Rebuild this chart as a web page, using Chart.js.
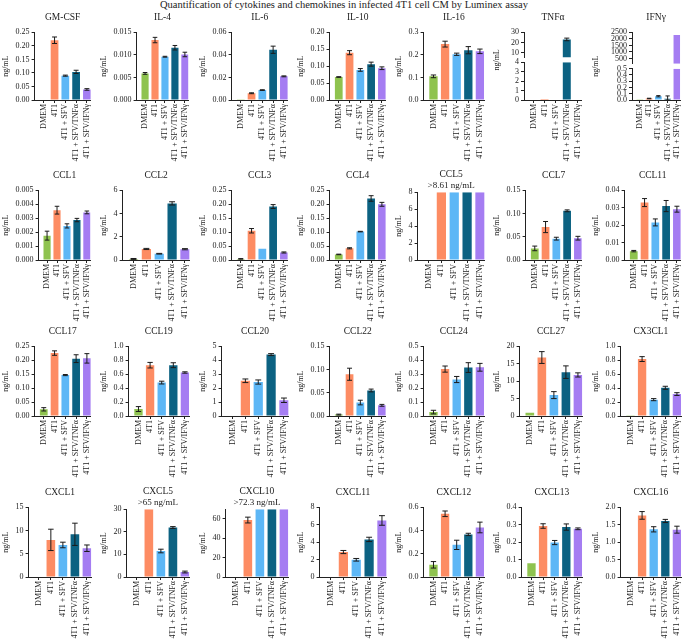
<!DOCTYPE html>
<html>
<head>
<meta charset="utf-8">
<script src="https://cdn.jsdelivr.net/npm/chart.js@4.4.1/dist/chart.umd.min.js"></script>
<style>
  body { margin: 0; background: #fff; }
  #page { position: relative; width: 688px; height: 642px; }
  #mainTitle { position: absolute; left: 0; top: -1px; width: 688px; text-align: center;
               font: 10.5px 'Liberation Serif', 'Times New Roman', serif; color: #222; }
  .panel { position: absolute; width: 98px; }
</style>
</head>
<body>
<div id="page">
  <div id="mainTitle">Quantification of cytokines and chemokines in infected 4T1 cell CM by Luminex assay</div>
</div>
<script>
const groups = ['DMEM', '4T1', '4T1 + SFV', '4T1 + SFV/TNFα', '4T1 + SFV/IFNγ'];
const barColors = ['#8fc34f', '#fd8c63', '#5db7f6', '#0c6282', '#a57df2'];

// values (ng/mL) and SEM, one pair per analyte
const gmcsf = [0, 0.221, 0.090, 0.104, 0.039];
const gmcsfErr = [0, 0.012, 0.002, 0.006, 0.003];
const il4 = [0.0059, 0.0133, 0.0096, 0.0116, 0.0101];
const il4Err = [0.0002, 0.0006, 0.0001, 0.0005, 0.0005];
const il6 = [0.0003, 0.0060, 0.0088, 0.0446, 0.0210];
const il6Err = [0, 0.0004, 0.0003, 0.0032, 0.0004];
const il10 = [0.068, 0.140, 0.089, 0.106, 0.094];
const il10Err = [0.001, 0.006, 0.004, 0.006, 0.004];
const il16 = [0.105, 0.248, 0.203, 0.221, 0.216];
const il16Err = [0.006, 0.013, 0.005, 0.016, 0.010];
const tnfa = [0, 0.01, 0, 23.0, 0];
const tnfaErr = [0, 0, 0, 1.3, 0];
const ifng = [0.004, 0.024, 0.060, 0.020, 2300];
const ifngErr = [0, 0.004, 0.010, 0.045, 0];
const ccl1 = [0.00175, 0.00358, 0.00245, 0.00287, 0.00342];
const ccl1Err = [0.00032, 0.00028, 0.00015, 0.00012, 0.0001];
const ccl2 = [0.09, 0.95, 0.54, 4.88, 0.93];
const ccl2Err = [0.04, 0.05, 0.03, 0.14, 0.05];
const ccl3 = [0.004, 0.105, 0.040, 0.192, 0.027];
const ccl3Err = [0.001, 0.008, 0, 0.007, 0.002];
const ccl4 = [0.020, 0.042, 0.102, 0.221, 0.200];
const ccl4Err = [0.001, 0.002, 0.001, 0.010, 0.007];
const ccl5 = [0, 8.61, 8.61, 8.61, 8.61];
const ccl5Err = [0, 0, 0, 0, 0];
const ccl7 = [0.025, 0.071, 0.046, 0.106, 0.047];
const ccl7Err = [0.005, 0.012, 0.003, 0.002, 0.004];
const ccl11 = [0.0051, 0.0330, 0.0216, 0.0310, 0.0292];
const ccl11Err = [0.0004, 0.0023, 0.002, 0.0032, 0.0017];
const ccl17 = [0.024, 0.226, 0.147, 0.206, 0.207];
const ccl17Err = [0.006, 0.008, 0.002, 0.014, 0.017];
const ccl19 = [0.10, 0.73, 0.48, 0.73, 0.625];
const ccl19Err = [0.035, 0.04, 0.02, 0.035, 0.01];
const ccl20 = [0, 2.53, 2.44, 4.41, 1.13];
const ccl20Err = [0, 0.13, 0.15, 0.07, 0.16];
const ccl22 = [0.003, 0.090, 0.029, 0.055, 0.023];
const ccl22Err = [0.001, 0.013, 0.005, 0.003, 0.002];
const ccl24 = [0.028, 0.337, 0.262, 0.348, 0.350];
const ccl24Err = [0.013, 0.022, 0.022, 0.035, 0.028];
const ccl27 = [0.9, 16.8, 6.0, 12.6, 11.8];
const ccl27Err = [0, 1.7, 1.0, 1.8, 0.6];
const cx3cl1 = [0.003, 0.818, 0.235, 0.405, 0.315];
const cx3cl1Err = [0, 0.035, 0.015, 0.022, 0.02];
const cxcl1 = [0, 8.0, 6.9, 9.2, 6.2];
const cxcl1Err = [0, 2.3, 0.6, 2.4, 0.7];
const cxcl5 = [0.2, 65, 11.5, 21.9, 2.2];
const cxcl5Err = [0, 0, 0.8, 0.4, 0.4];
const cxcl10 = [0, 58.8, 72.3, 72.3, 72.3];
const cxcl10Err = [0, 3, 0, 0, 0];
const cxcl11 = [0, 2.87, 1.98, 4.32, 6.5];
const cxcl11Err = [0, 0.18, 0.15, 0.25, 0.55];
const cxcl12 = [0.105, 0.545, 0.277, 0.367, 0.427];
const cxcl12Err = [0.028, 0.024, 0.04, 0.01, 0.046];
const cxcl13 = [0.079, 0.293, 0.198, 0.287, 0.277];
const cxcl13Err = [0, 0.013, 0.012, 0.018, 0.005];
const cxcl16 = [0, 1.77, 1.37, 1.61, 1.36];
const cxcl16Err = [0, 0.11, 0.075, 0.045, 0.1];

// y tick labels
const t025 = ['0.00', '0.05', '0.10', '0.15', '0.20', '0.25'];
const il4Ticks = ['0.000', '0.005', '0.010', '0.015'];
const il6Ticks = ['0.00', '0.02', '0.04', '0.06'];
const il10Ticks = ['0.00', '0.05', '0.10', '0.15', '0.20'];
const il16Ticks = ['0.0', '0.1', '0.2', '0.3'];
const tnfaTicks = ['0', '1', '2', '3', '4'];
const tnfaHighTicks = ['10', '20', '30'];
const tnfaHighRange = [5, 30];
const ifngTicks = ['0.0', '0.1', '0.2', '0.3', '0.4', '0.5'];
const ifngHighTicks = ['500', '1000', '1500', '2000', '2500'];
const ifngHighRange = [100, 2500];
const ccl1Ticks = ['0.000', '0.001', '0.002', '0.003', '0.004', '0.005'];
const ccl2Ticks = ['0', '2', '4', '6'];
const ccl5Ticks = ['0', '2', '4', '6', '8'];
const t015 = ['0.00', '0.05', '0.10', '0.15'];
const ccl11Ticks = ['0.00', '0.01', '0.02', '0.03', '0.04'];
const t10 = ['0.0', '0.2', '0.4', '0.6', '0.8', '1.0'];
const ccl20Ticks = ['0', '1', '2', '3', '4', '5'];
const ccl24Ticks = ['0.0', '0.1', '0.2', '0.3', '0.4', '0.5'];
const ccl27Ticks = ['0', '5', '10', '15', '20'];
const cxcl1Ticks = ['0', '5', '10', '15'];
const cxcl5Ticks = ['0', '10', '20', '30'];
const cxcl10Ticks = ['0', '20', '40', '60'];
const cxcl10Top = 70;
const cxcl11Ticks = ['0', '2', '4', '6', '8'];
const cxcl12Ticks = ['0.0', '0.2', '0.4', '0.6'];
const cxcl13Ticks = ['0.0', '0.1', '0.2', '0.3', '0.4'];
const cxcl16Ticks = ['0.0', '0.5', '1.0', '1.5', '2.0'];

const panelNames = ['GM-CSF', 'IL-4', 'IL-6', 'IL-10', 'IL-16', 'TNFα', 'IFNγ',
  'CCL1', 'CCL2', 'CCL3', 'CCL4', 'CCL5', 'CCL7', 'CCL11',
  'CCL17', 'CCL19', 'CCL20', 'CCL22', 'CCL24', 'CCL27', 'CX3CL1',
  'CXCL1', 'CXCL5', 'CXCL10', 'CXCL11', 'CXCL12', 'CXCL13', 'CXCL16'];
const panelValues = [gmcsf, il4, il6, il10, il16, tnfa, ifng,
  ccl1, ccl2, ccl3, ccl4, ccl5, ccl7, ccl11,
  ccl17, ccl19, ccl20, ccl22, ccl24, ccl27, cx3cl1,
  cxcl1, cxcl5, cxcl10, cxcl11, cxcl12, cxcl13, cxcl16];
const panelErrors = [gmcsfErr, il4Err, il6Err, il10Err, il16Err, tnfaErr, ifngErr,
  ccl1Err, ccl2Err, ccl3Err, ccl4Err, ccl5Err, ccl7Err, ccl11Err,
  ccl17Err, ccl19Err, ccl20Err, ccl22Err, ccl24Err, ccl27Err, cx3cl1Err,
  cxcl1Err, cxcl5Err, cxcl10Err, cxcl11Err, cxcl12Err, cxcl13Err, cxcl16Err];
const panelTicks = [t025, il4Ticks, il6Ticks, il10Ticks, il16Ticks, tnfaTicks, ifngTicks,
  ccl1Ticks, ccl2Ticks, t025, t025, ccl5Ticks, t015, ccl11Ticks,
  t025, t10, ccl20Ticks, t015, ccl24Ticks, ccl27Ticks, t10,
  cxcl1Ticks, cxcl5Ticks, cxcl10Ticks, cxcl11Ticks, cxcl12Ticks, cxcl13Ticks, cxcl16Ticks];
const overLimit = { 'CCL5': '>8.61 ng/mL', 'CXCL5': '>65 ng/mL', 'CXCL10': '>72.3 ng/mL' };

const ink = '#222';
const serif = "'Liberation Serif', 'Times New Roman', serif";
const small = { family: serif, size: 8 };
const rowTops = [10, 168, 324, 485];
const rowHeights = [154, 156, 156, 156];

// clip each dataset to its own y box (broken axes) and draw SEM whiskers
const errorBars = {
  id: 'errorBars',
  beforeDatasetDraw(chart, args) {
    const ys = chart.scales[args.meta.yAxisID];
    const a = chart.chartArea;
    chart.ctx.save();
    chart.ctx.beginPath();
    chart.ctx.rect(a.left - 2, ys.top, a.right - a.left + 4, ys.bottom - ys.top);
    chart.ctx.clip();
  },
  afterDatasetDraw(chart, args) {
    const ds = chart.data.datasets[args.index];
    const ys = chart.scales[args.meta.yAxisID];
    const ctx = chart.ctx;
    ctx.strokeStyle = '#1b1b1b';
    ctx.lineWidth = 1;
    args.meta.data.forEach((bar, i) => {
      const e = ds.errors[i];
      const v = ds.data[i];
      if (!e || v < ys.min || v > ys.max) return;
      const hi = ys.getPixelForValue(v + e);
      const lo = ys.getPixelForValue(Math.max(v - e, 0));
      const cap = bar.width * 0.32;
      ctx.beginPath();
      ctx.moveTo(bar.x, hi); ctx.lineTo(bar.x, lo);
      ctx.moveTo(bar.x - cap, hi); ctx.lineTo(bar.x + cap, hi);
      ctx.moveTo(bar.x - cap, lo); ctx.lineTo(bar.x + cap, lo);
      ctx.stroke();
    });
    ctx.restore();
  }
};

function yAxis(labels, min, max) {
  return {
    type: 'linear', position: 'left', min: min, max: max,
    grid: { drawOnChartArea: false, tickLength: 3, color: ink },
    border: { color: ink },
    ticks: { font: small, color: ink, padding: 2, autoSkip: false, callback: (v, i) => labels[i] },
    afterBuildTicks: s => { s.ticks = labels.map(t => ({ value: parseFloat(t) })); },
    title: { display: true, text: 'ng/mL', font: small, color: ink, padding: { top: 0, bottom: 3 } }
  };
}

function makePanel(k) {
  const name = panelNames[k];
  const labels = panelTicks[k];
  const row = Math.floor(k / 7);
  const div = document.createElement('div');
  div.className = 'panel';
  div.style.left = (k % 7) * 688 / 7 + 'px';
  div.style.top = rowTops[row] + 'px';
  div.style.height = rowHeights[row] + 'px';
  const cv = document.createElement('canvas');
  div.appendChild(cv);
  document.getElementById('page').appendChild(div);

  const top = name === 'CXCL10' ? cxcl10Top : parseFloat(labels[labels.length - 1]);
  const scales = {
    x: {
      type: 'category', offset: true,
      grid: { offset: false, drawOnChartArea: false, tickLength: 3, color: ink },
      border: { color: ink },
      ticks: { font: small, color: ink, minRotation: 90, maxRotation: 90, autoSkip: false, padding: 1 },
      afterBuildTicks: s => { s._startValue = -0.85; s._valueRange = groups.length + 0.21; },
      afterFit: s => { s.height = 64; }
    },
    y: yAxis(labels, parseFloat(labels[0]), top)
  };
  const datasets = [{
    data: panelValues[k], errors: panelErrors[k], backgroundColor: barColors,
    yAxisID: 'y', grouped: false, categoryPercentage: 0.78, barPercentage: 0.92
  }];

  // broken axes for TNFα and IFNγ: low part, a gap carrying the axis title, high part
  if (name === 'TNFα' || name === 'IFNγ') {
    const tnf = name === 'TNFα';
    const highLabels = tnf ? tnfaHighTicks : ifngHighTicks;
    const range = tnf ? tnfaHighRange : ifngHighRange;
    const w = tnf ? [39, 5, 26] : [31, 5, 31];
    const axisW = tnf ? 32 : 41;
    scales.y.stack = 'brk'; scales.y.stackWeight = w[0];
    scales.y.title = { display: false };
    scales.y.afterFit = s => { s.width = axisW; };
    scales.yGap = {
      type: 'linear', position: 'left', stack: 'brk', stackWeight: w[1],
      grid: { display: false }, border: { display: false }, ticks: { display: false },
      title: { display: true, text: 'ng/mL', font: small, color: ink, padding: { top: 0, bottom: 3 } },
      afterFit: s => { s.width = axisW; }
    };
    scales.yHigh = yAxis(highLabels, range[0], range[1]);
    scales.yHigh.stack = 'brk'; scales.yHigh.stackWeight = w[2];
    scales.yHigh.title = { display: false };
    scales.yHigh.afterFit = s => { s.width = axisW; };
    datasets.push(Object.assign({}, datasets[0], { yAxisID: 'yHigh' }));
  }

  const sub = overLimit[name];
  new Chart(cv, {
    type: 'bar',
    data: { labels: groups, datasets: datasets },
    options: {
      responsive: true, maintainAspectRatio: false, animation: false,
      layout: { padding: { left: 1, right: 3, top: 0, bottom: 0 } },
      plugins: {
        legend: { display: false },
        tooltip: { enabled: false },
        title: {
          display: true, text: name, color: ink, align: 'center', fullSize: false,
          font: { family: serif, size: 9.5, weight: 'normal' },
          padding: sub ? { top: 1, bottom: 0 } : { top: 2, bottom: 9 }
        },
        subtitle: {
          display: !!sub, text: sub || '', color: ink, align: 'center', fullSize: false,
          font: { family: serif, size: 9, weight: 'normal' },
          padding: { top: 0, bottom: 1 }
        }
      },
      scales: scales
    },
    plugins: [errorBars]
  });
}

for (let k = 0; k < panelNames.length; k++) makePanel(k);
</script>
</body>
</html>
